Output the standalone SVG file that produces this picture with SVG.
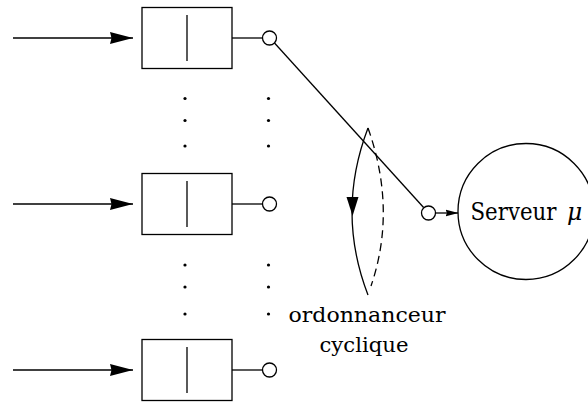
<svg xmlns="http://www.w3.org/2000/svg" width="588" height="404" viewBox="0 0 588 404">
  <style>
    .ln { fill: none; stroke: #000; stroke-width: 1.3; }
    .box { fill: #fff; stroke: #000; stroke-width: 1.3; }
    .port { fill: #fff; stroke: #000; stroke-width: 1.3; }
    .dot { fill: #000; }
    .lbl { font-family: 'DejaVu Serif', serif; font-size: 21px; fill: #000; }
    .big { font-size: 23.5px; }
  </style>
  <defs>
    <marker id="bigArrow" markerUnits="userSpaceOnUse" viewBox="0 0 24 13" markerWidth="24" markerHeight="13" refX="23" refY="6.5" orient="auto">
      <path d="M0,0.5 L23,6.5 L0,12.5 L1.5,6.5 Z" fill="#000"/>
    </marker>
    <marker id="smallArrow" markerUnits="userSpaceOnUse" viewBox="0 0 14 8" markerWidth="14" markerHeight="8" refX="13" refY="4" orient="auto">
      <path d="M0,0.5 L13,4 L0,7.5 L1.5,4 Z" fill="#000"/>
    </marker>
  </defs>

  <!-- connectors -->
  <g id="connectors">
    <line class="ln" x1="13" y1="38" x2="133" y2="38" marker-end="url(#bigArrow)"/>
    <line class="ln" x1="13" y1="204" x2="133" y2="204" marker-end="url(#bigArrow)"/>
    <line class="ln" x1="13" y1="370" x2="133" y2="370" marker-end="url(#bigArrow)"/>
    <line class="ln" x1="232" y1="38" x2="262.5" y2="38"/>
    <line class="ln" x1="232" y1="204" x2="262.5" y2="204"/>
    <line class="ln" x1="232" y1="370" x2="262.5" y2="370"/>
    <!-- switch arm -->
    <line class="ln" x1="274.5" y1="43" x2="423.6" y2="207.5"/>
    <!-- output to server -->
    <line class="ln" x1="435.5" y1="213" x2="458.5" y2="213" marker-end="url(#smallArrow)"/>
  </g>

  <!-- queues -->
  <g id="queue1">
    <rect class="box" x="142" y="7.5" width="90" height="61"/>
    <line class="ln" x1="187" y1="15" x2="187" y2="61"/>
    <circle class="port" cx="269.5" cy="38" r="7"/>
  </g>
  <g id="queue2">
    <rect class="box" x="142" y="173.5" width="90" height="61"/>
    <line class="ln" x1="187" y1="181" x2="187" y2="227"/>
    <circle class="port" cx="269.5" cy="204" r="7"/>
  </g>
  <g id="queue3">
    <rect class="box" x="142" y="339.5" width="90" height="61"/>
    <line class="ln" x1="187" y1="347" x2="187" y2="393"/>
    <circle class="port" cx="269.5" cy="370" r="7"/>
  </g>

  <!-- ellipsis dots -->
  <g id="dots">
    <circle class="dot" cx="185" cy="98.5" r="1.6"/>
    <circle class="dot" cx="185" cy="120.5" r="1.6"/>
    <circle class="dot" cx="185" cy="146" r="1.6"/>
    <circle class="dot" cx="268.5" cy="98.5" r="1.6"/>
    <circle class="dot" cx="268.5" cy="120.5" r="1.6"/>
    <circle class="dot" cx="268.5" cy="146" r="1.6"/>
    <circle class="dot" cx="185" cy="265" r="1.6"/>
    <circle class="dot" cx="185" cy="287" r="1.6"/>
    <circle class="dot" cx="185" cy="314" r="1.6"/>
    <circle class="dot" cx="268.5" cy="265" r="1.6"/>
    <circle class="dot" cx="268.5" cy="287" r="1.6"/>
    <circle class="dot" cx="268.5" cy="314" r="1.6"/>
  </g>

  <!-- cyclic scheduler -->
  <g id="scheduler">
    <path class="ln" d="M368,128 Q336,212 368,295"/>
    <path class="ln" d="M368,128 Q397,210 371,286" stroke-dasharray="8,5"/>
    <path d="M346.5,197 L358.5,197 L352.6,216 Z" fill="#000"/>
    <circle class="port" cx="428.5" cy="213" r="7"/>
    <text class="lbl" x="288.5" y="322" textLength="157" lengthAdjust="spacingAndGlyphs">ordonnanceur</text>
    <text class="lbl" x="319.5" y="352" textLength="89" lengthAdjust="spacingAndGlyphs">cyclique</text>
  </g>

  <!-- server -->
  <g id="server">
    <circle class="port" cx="526" cy="211.5" r="68"/>
    <text class="lbl big" x="470.5" y="220" textLength="86" lengthAdjust="spacingAndGlyphs">Serveur</text>
    <text class="lbl big" x="567" y="220" font-style="italic">μ</text>
  </g>
</svg>
